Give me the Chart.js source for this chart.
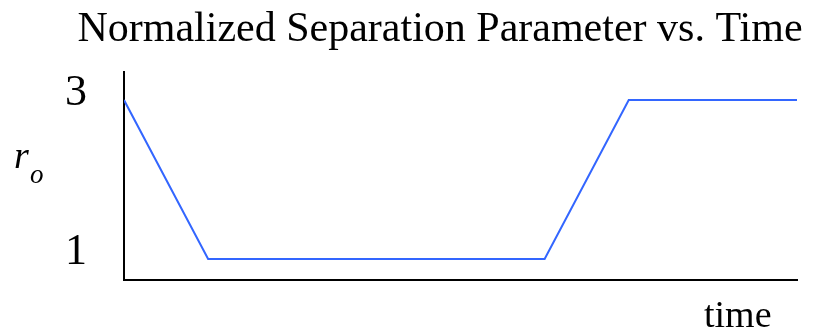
<!DOCTYPE html>
<html>
<head>
<meta charset="utf-8">
<title>Normalized Separation Parameter vs. Time</title>
<script src="https://cdn.jsdelivr.net/npm/chart.js@4/dist/chart.umd.min.js"></script>
<style>
  html, body { margin: 0; padding: 0; background: #fff; }
  #wrap { width: 834px; height: 333px; }
</style>
</head>
<body>
<div id="wrap"><canvas id="chart" width="834" height="333"></canvas></div>
<script>
// values
const timePoints = [0, 1, 5, 6, 8];
const separation = [3, 1, 1, 3, 3];
const yTicks = [1, 3];
const titleText = 'Normalized Separation Parameter vs. Time';
const xLabel = 'time';

const SERIF = '"Liberation Serif", "Times New Roman", serif';

// extra text: title, r_o and time
const textPlugin = {
  id: 'textLabels',
  afterDraw(chart) {
    const ctx = chart.ctx;
    ctx.save();
    ctx.fillStyle = '#000';
    ctx.textBaseline = 'alphabetic';

    ctx.font = '42px ' + SERIF;
    ctx.textAlign = 'center';
    ctx.fillText(titleText, 440, 41);

    ctx.textAlign = 'left';
    ctx.font = 'italic 38px ' + SERIF;
    ctx.fillText('r', 14, 168);
    ctx.font = 'italic 27px ' + SERIF;
    ctx.fillText('o', 30, 183);

    ctx.font = '38px ' + SERIF;
    ctx.fillText(xLabel, 704, 327);
    ctx.restore();
  }
};

new Chart(document.getElementById('chart'), {
  type: 'line',
  data: {
    datasets: [{
      data: timePoints.map((t, i) => ({ x: t, y: separation[i] })),
      borderColor: 'rgb(51, 102, 255)',
      borderWidth: 2,
      pointRadius: 0,
      tension: 0,
      fill: false,
    }],
  },
  options: {
    responsive: false,
    animation: false,
    events: [],
    layout: { padding: { top: 72, right: 37, left: 0, bottom: 0 } },
    plugins: { legend: { display: false }, tooltip: { enabled: false }, title: { display: false } },
    scales: {
      x: {
        type: 'linear',
        min: 0,
        max: 8,
        grid: { display: false, drawTicks: false },
        border: { display: true, color: '#000', width: 2 },
        ticks: { display: false },
        afterFit: (s) => { s.height = 53; s.paddingLeft = 0; s.paddingRight = 0; },
      },
      y: {
        min: 0.736,
        max: 3.352,
        grid: { display: false, drawTicks: false },
        border: { display: true, color: '#000', width: 2 },
        afterBuildTicks: (s) => { s.ticks = yTicks.map((v) => ({ value: v })); },
        ticks: {
          color: '#000',
          font: { family: SERIF, size: 44 },
          padding: 37,
          labelOffset: -7,
        },
        afterFit: (s) => { s.width = 124; s.paddingTop = 0; s.paddingBottom = 0; },
      },
    },
  },
  plugins: [textPlugin],
});
</script>
</body>
</html>
